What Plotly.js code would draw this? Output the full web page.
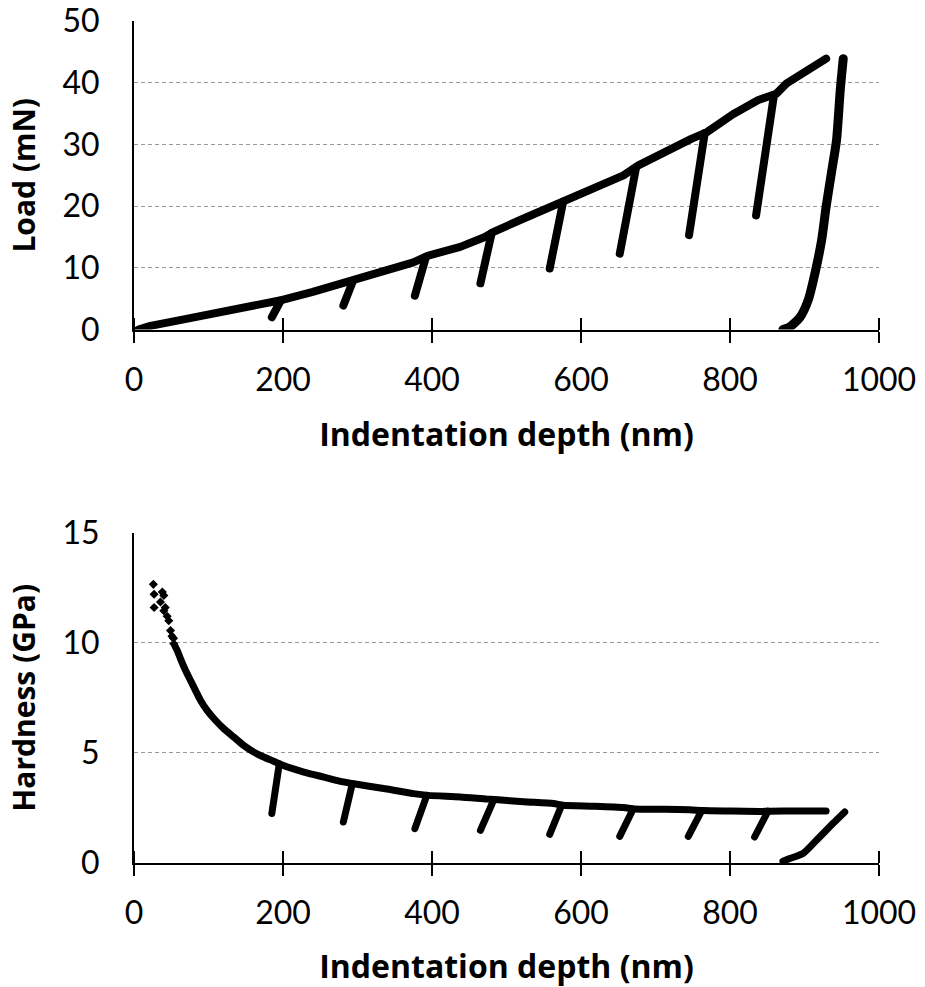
<!DOCTYPE html>
<html>
<head>
<meta charset="utf-8">
<script src="https://cdn.plot.ly/plotly-3.0.1.min.js"></script>
<style>
html,body{margin:0;padding:0;background:#fff;}
#chart{width:925px;height:987px;}
#chart path.js-line{stroke-linejoin:round !important;stroke-linecap:round !important;}
</style>
</head>
<body>
<div id="chart"></div>
<script>
// ---- Load–depth curve (top) ----
// loading branch (with reload points)
const loadDepth = [6, 22, 60, 107, 150, 192, 199, 240, 286, 297, 335, 375, 395, 438, 471, 482, 523, 563, 579, 618, 657, 677, 712, 748, 769, 804, 838, 862, 876, 929];
const loadValue = [0, 0.6, 1.5, 2.6, 3.5, 4.4, 4.8, 6.1, 7.7, 8.0, 9.5, 10.9, 12.0, 13.4, 15.0, 15.8, 18.0, 20.1, 20.9, 23.1, 25.0, 26.6, 28.8, 30.9, 32.0, 34.9, 37.2, 38.2, 39.9, 43.9];
// partial unload / reload cycles (bottom -> reload point)
const cycleDepth = [185, 197, null, 281, 294, null, 377, 392, null, 465, 480, null, 558, 576, null, 652, 674, null, 745, 766, null, 835, 859];
const cycleValue = [2.0, 4.7, null, 3.9, 7.9, null, 5.5, 11.8, null, 7.5, 15.6, null, 9.9, 20.7, null, 12.3, 26.3, null, 15.3, 31.8, null, 18.5, 38.0];
// final unloading branch
const unloadDepth = [952, 948, 943, 936, 929, 923, 914, 905, 894, 880, 871];
const unloadValue = [43.9, 38.8, 30.7, 25.3, 19.9, 14.5, 9.1, 4.8, 2.0, 0.4, 0];

// ---- Hardness–depth curve (bottom) ----
const hardScatterDepth = [26, 27, 38, 40, 27, 35.5, 42, 40, 44.5, 46.7, 49, 51, 53, 53.4];
const hardScatterValue = [12.65, 12.2, 12.3, 12.15, 11.6, 11.85, 11.6, 11.45, 11.2, 11.0, 10.55, 10.3, 10.2, 9.95];
const hardDepth = [55, 57.9, 62.3, 69.1, 75.8, 82.5, 89.2, 98.1, 109.3, 120.4, 133.8, 147.2, 160.6, 174, 187.5, 197, 228, 255, 281, 295, 335, 375, 395, 438, 474, 485, 523, 563, 576, 617, 657, 672, 709, 746, 764, 802, 840, 853, 891, 929];
const hardValue = [9.85, 9.66, 9.28, 8.75, 8.29, 7.84, 7.39, 6.93, 6.48, 6.10, 5.72, 5.34, 5.04, 4.81, 4.62, 4.47, 4.13, 3.9, 3.68, 3.6, 3.38, 3.15, 3.07, 3.0, 2.9, 2.88, 2.78, 2.70, 2.62, 2.58, 2.52, 2.45, 2.44, 2.42, 2.38, 2.36, 2.34, 2.35, 2.36, 2.36];
const hardCycleDepth = [185, 195, null, 281, 293, null, 377, 393, null, 465, 483, null, 558, 574, null, 652, 670, null, 744, 762, null, 833, 851];
const hardCycleValue = [2.25, 4.5, null, 1.86, 3.6, null, 1.56, 3.07, null, 1.48, 2.88, null, 1.30, 2.62, null, 1.21, 2.45, null, 1.21, 2.38, null, 1.18, 2.35];
const hardUnloadDepth = [954, 938, 916, 898, 880, 871];
const hardUnloadValue = [2.32, 1.79, 1.03, 0.43, 0.2, 0.08];

const xTicks = [0, 200, 400, 600, 800, 1000];
const xInnerTicks = [0.5, 200.5, 400.5, 600.5, 800.5, 999.5];
const loadTicks = [0, 10, 20, 30, 40, 50];
const hardTicks = [0, 5, 10, 15];

const TICKFAMILY = 'Lato, "Open Sans", "DejaVu Sans", sans-serif';
const TITLEFAMILY = '"Open Sans", Lato, "DejaVu Sans", sans-serif';
const black = '#000000';

function lineTrace(x, y, xa, ya, w, smooth) {
  const t = {x: x, y: y, xaxis: xa, yaxis: ya, type: 'scatter', mode: 'lines',
    connectgaps: false, line: {color: black, width: w}, showlegend: false};
  if (smooth) { t.line.shape = 'spline'; t.line.smoothing = 0.6; }
  return t;
}

const traces = [
  lineTrace(loadDepth, loadValue, 'x', 'y', 8, false),
  lineTrace(cycleDepth, cycleValue, 'x', 'y', 8, false),
  lineTrace(unloadDepth, unloadValue, 'x', 'y', 9, true),
  {x: hardScatterDepth, y: hardScatterValue, xaxis: 'x2', yaxis: 'y2', type: 'scatter', mode: 'markers',
   marker: {color: black, size: 7, symbol: 'diamond'}, showlegend: false},
  lineTrace(hardDepth, hardValue, 'x2', 'y2', 7, true),
  lineTrace(hardCycleDepth, hardCycleValue, 'x2', 'y2', 7, false),
  lineTrace(hardUnloadDepth, hardUnloadValue, 'x2', 'y2', 7, true)
];

const tickFont = {family: TICKFAMILY, size: 32, color: '#000'};

function xAxis(anchor, standoff) {
  return {anchor: anchor, domain: [0, 1], range: [0, 1000], tickvals: xTicks, ticktext: xTicks.map(String),
    showline: true, linecolor: black, linewidth: 2, ticks: 'outside', ticklen: 11, tickwidth: 2, tickcolor: black,
    minor: {tickmode: 'array', tickvals: xInnerTicks, ticks: 'inside', ticklen: 12, tickwidth: 2, tickcolor: black, showgrid: false},
    showgrid: false, zeroline: false, tickfont: tickFont, ticklabelstandoff: 10,
    title: {text: 'Indentation depth (nm)', font: {family: TITLEFAMILY, size: 32, color: '#000', weight: 'bold'}, standoff: standoff},
    automargin: false, fixedrange: true};
}
function yAxis(anchor, domain, range, ticks, title) {
  return {anchor: anchor, domain: domain, range: range, tickvals: ticks, ticktext: ticks.map(String),
    showline: true, linecolor: black, linewidth: 2, ticks: '', showgrid: true, gridcolor: '#9a9a9a', gridwidth: 1,
    griddash: '4px,3px', zeroline: false, tickfont: tickFont, ticklabelstandoff: 26,
    title: {text: title, font: {family: TITLEFAMILY, size: 30, color: '#000', weight: 'bold'}, standoff: 18},
    automargin: 'left', fixedrange: true};
}

const layout = {
  width: 925, height: 987,
  margin: {l: 133.5, r: 45.7, t: 20.7, b: 124.3},
  paper_bgcolor: '#ffffff', plot_bgcolor: '#ffffff',
  showlegend: false,
  xaxis: xAxis('y', 27),
  yaxis: yAxis('x', [0.6335, 1], [0, 50], loadTicks, 'Load (mN)'),
  xaxis2: xAxis('y2', 27),
  yaxis2: yAxis('x2', [0, 0.3924], [0, 15], hardTicks, 'Hardness (GPa)')
};

Plotly.newPlot('chart', traces, layout, {displayModeBar: false, staticPlot: true});
</script>
</body>
</html>
